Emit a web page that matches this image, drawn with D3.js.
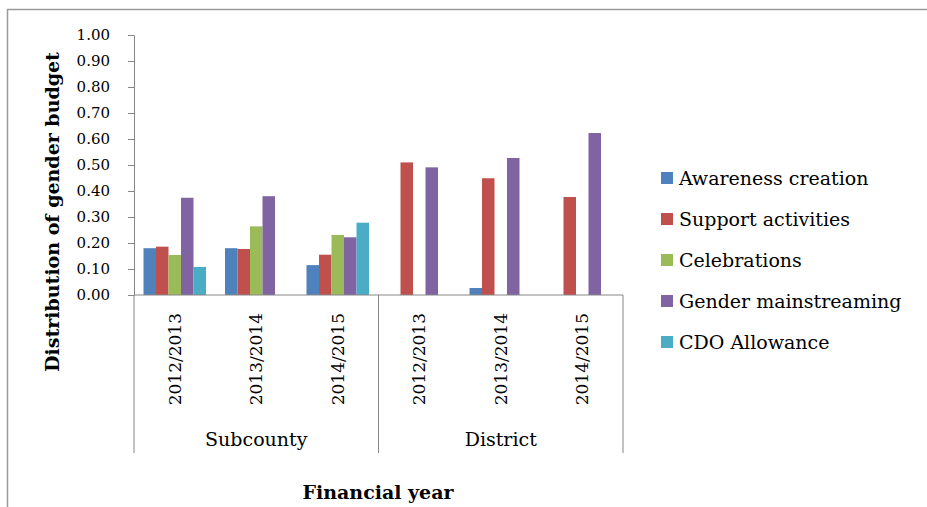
<!DOCTYPE html>
<html>
<head>
<meta charset="utf-8">
<script src="https://cdn.jsdelivr.net/npm/d3@7"></script>
<style>
    body { margin: 0; background: #fff; }
    svg text { font-family: "DejaVu Serif", serif; fill: #000; }
</style>
</head>
<body>
<div id="chart"></div>
<script>
    var years = ["2012/2013", "2013/2014", "2014/2015"];
    var levels = ["Subcounty", "District"];
    var series = ["Awareness creation", "Support activities", "Celebrations", "Gender mainstreaming", "CDO Allowance"];
    var colors = ["#4F81BD", "#C0504D", "#9BBB59", "#8064A2", "#4BACC6"];

    // values per category: subcounty 3 years, then district 3 years
    var awareness = [0.180, 0.180, 0.115, 0.000, 0.027, 0.000];
    var support = [0.186, 0.177, 0.155, 0.510, 0.449, 0.377];
    var celebrations = [0.154, 0.264, 0.231, 0.000, 0.000, 0.000];
    var gender = [0.374, 0.380, 0.222, 0.491, 0.527, 0.623];
    var cdo = [0.108, 0.000, 0.278, 0.000, 0.000, 0.000];
    var yTicks = [0, 0.1, 0.2, 0.3, 0.4, 0.5, 0.6, 0.7, 0.8, 0.9, 1.0];

    function drawChart() {
        var values = [awareness, support, celebrations, gender, cdo];
        var cats = [];
        levels.forEach(function(l) {
            years.forEach(function(y) { cats.push({level: l, year: y, key: l + " " + y}); });
        });

        var W = 927, H = 507;
        var grey = "#868686";
        var svg = d3.select("#chart").append("svg")
            .attr("width", W)
            .attr("height", H);

        // chart frame
        svg.append("rect")
            .attr("x", 7.5).attr("y", 9.5)
            .attr("width", W + 20).attr("height", H + 20)
            .attr("fill", "none")
            .attr("stroke", "#9a9a9a")
            .attr("stroke-width", 1.5);

        var pLeft = 134, pRight = 623, pTop = 35, base = 295, labelBottom = 453;

        var x = d3.scaleBand()
            .domain(cats.map(function(c) { return c.key; }))
            .range([pLeft, pRight])
            .padding(0);

        var xs = d3.scaleBand()
            .domain(series)
            .range([0, x.bandwidth()])
            .paddingInner(0)
            .paddingOuter(0.76);

        var y = d3.scaleLinear()
            .domain([0, 1])
            .range([base, pTop]);

        //Draw bars
        var group = svg.selectAll(".cat")
            .data(cats)
            .enter().append("g")
            .attr("class", "cat")
            .attr("transform", function(d) { return "translate(" + x(d.key) + ",0)"; });

        group.selectAll("rect")
            .data(function(d, i) {
                return series.map(function(s, j) { return {s: s, v: values[j][i], c: colors[j]}; });
            })
            .enter().append("rect")
            .attr("x", function(d) { return xs(d.s); })
            .attr("width", xs.bandwidth())
            .attr("y", function(d) { return y(d.v); })
            .attr("height", function(d) { return base - y(d.v); })
            .attr("fill", function(d) { return d.c; });

        // y axis
        var yAxis = d3.axisLeft(y)
            .tickValues(yTicks)
            .tickFormat(d3.format(".2f"))
            .tickSize(6)
            .tickSizeOuter(0)
            .tickPadding(18);

        var ya = svg.append("g")
            .attr("transform", "translate(" + pLeft + ",0)")
            .call(yAxis);
        ya.selectAll("path, line").attr("stroke", grey);
        ya.selectAll("text")
            .style("font-size", "15px")
            .style("font-family", "'DejaVu Serif', serif");

        // x axis line + group separators
        svg.append("line")
            .attr("x1", pLeft).attr("x2", pRight)
            .attr("y1", y(0)).attr("y2", y(0))
            .attr("stroke", grey);

        var seps = [x(cats[0].key), x(cats[3].key), pRight];
        svg.selectAll(".sep")
            .data(seps)
            .enter().append("line")
            .attr("class", "sep")
            .attr("x1", function(d) { return d; })
            .attr("x2", function(d) { return d; })
            .attr("y1", y(0))
            .attr("y2", labelBottom)
            .attr("stroke", grey);

        // year labels
        svg.selectAll(".yr")
            .data(cats)
            .enter().append("text")
            .attr("class", "yr")
            .attr("transform", function(d) {
                return "translate(" + (x(d.key) + x.bandwidth() / 2 + 6) + "," + (base + 18) + ") rotate(-90)";
            })
            .attr("text-anchor", "end")
            .style("font-size", "17px")
            .text(function(d) { return d.year; });

        // level labels
        svg.selectAll(".lvl")
            .data(levels)
            .enter().append("text")
            .attr("class", "lvl")
            .attr("x", function(d, i) { return (x(cats[i * 3].key) + x(cats[i * 3 + 2].key) + x.bandwidth()) / 2; })
            .attr("y", 446)
            .attr("text-anchor", "middle")
            .style("font-size", "19px")
            .text(function(d) { return d; });

        // axis titles
        svg.append("text")
            .attr("transform", "translate(59,212) rotate(-90)")
            .attr("text-anchor", "middle")
            .style("font-size", "19px")
            .style("font-weight", "bold")
            .text("Distribution of gender budget");

        svg.append("text")
            .attr("x", 378)
            .attr("y", 499)
            .attr("text-anchor", "middle")
            .style("font-size", "19px")
            .style("font-weight", "bold")
            .text("Financial year");

        // legend
        var leg = svg.selectAll(".leg")
            .data(series)
            .enter().append("g")
            .attr("class", "leg")
            .attr("transform", function(d, i) { return "translate(661," + (178 + i * 41) + ")"; });

        leg.append("rect")
            .attr("x", 0).attr("y", -6)
            .attr("width", 12).attr("height", 12)
            .attr("fill", function(d, i) { return colors[i]; });

        leg.append("text")
            .attr("x", 18)
            .attr("dy", "0.35em")
            .style("font-size", "19px")
            .text(function(d) { return d; });
    }

    drawChart();
</script>
</body>
</html>
